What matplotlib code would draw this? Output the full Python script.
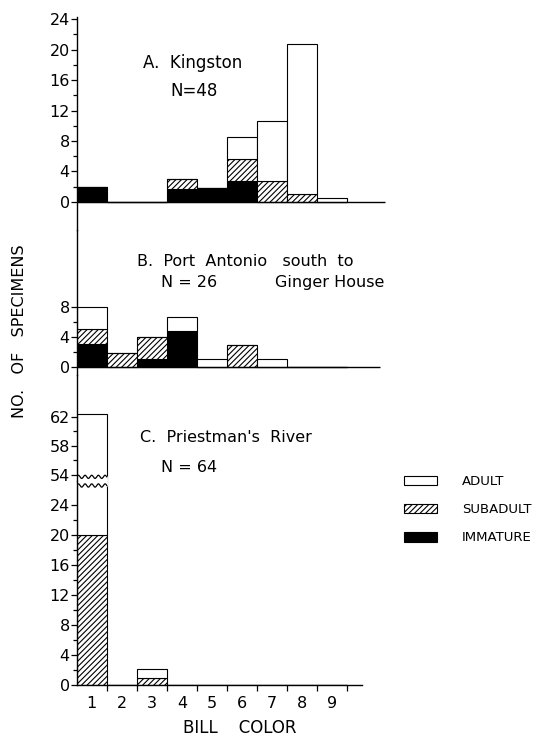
import numpy as np
import matplotlib
matplotlib.use('Agg')
from matplotlib import pyplot as plt
from matplotlib.patches import Patch

# bill colour classes 1..9
bill_color = [1, 2, 3, 4, 5, 6, 7, 8, 9]

# A. Kingston
a_immature = [2.0, 0, 0, 1.7, 1.75, 2.7, 0, 0, 0]
a_subadult = [0, 0, 0, 1.25, 0, 2.9, 2.7, 1.0, 0]
a_adult = [0, 0, 0, 0, 0, 2.95, 7.9, 19.8, 0.55]

# B. Port Antonio south to Ginger House
b_immature = [3.0, 0, 1.0, 4.8, 0, 0, 0, 0, 0]
b_subadult = [2.1, 1.9, 2.95, 0, 0, 2.9, 0, 0, 0]
b_adult = [2.9, 0, 0, 1.95, 1.0, 0, 1.0, 0, 0]

# C. Priestman's River
c_immature = [0, 0, 0, 0, 0, 0, 0, 0, 0]
c_subadult = [20, 0, 1.0, 0, 0, 0, 0, 0, 0]
c_adult = [42.4, 0, 1.1, 0, 0, 0, 0, 0, 0]

W, H = 545, 736
plt.rcParams['hatch.linewidth'] = 0.8
plt.rcParams['font.family'] = 'DejaVu Sans'

fig = plt.figure(figsize=(W / 100, H / 100), dpi=100)

LEFT = 76.7
XW = 309.4


def make_axes(top, bottom, ylim):
    ax = fig.add_axes([LEFT / W, 1 - bottom / H, XW / W, (bottom - top) / H])
    ax.set_xlim(0.5, 10.8)
    ax.set_ylim(*ylim)
    for s in ['top', 'right', 'bottom']:
        ax.spines[s].set_visible(False)
    ax.spines['left'].set_linewidth(1.0)
    ax.set_xticks([])
    ax.tick_params(axis='y', which='major', length=4, width=0.9, pad=1, labelsize=11.5)
    ax.tick_params(axis='y', which='minor', length=3, width=0.9)
    ax.patch.set_alpha(0)
    return ax


def stack(ax, imm, sub, adult):
    imm = np.array(imm)
    sub = np.array(sub)
    adult = np.array(adult)
    ax.bar(bill_color, imm, width=1, color='black', edgecolor='black', linewidth=0.8)
    ax.bar(bill_color, sub, width=1, bottom=imm, color='white', edgecolor='black',
           hatch='//////', linewidth=0.8)
    ax.bar(bill_color, adult, width=1, bottom=imm + sub, color='white', edgecolor='black',
           linewidth=0.8)


# Panel A
ax_a = make_axes(16.7, 230, (-3.72, 24.34))
stack(ax_a, a_immature, a_subadult, a_adult)
ax_a.hlines(0, 0.5, 10.75, color='black', linewidth=1.0)
ax_a.set_yticks([0, 4, 8, 12, 16, 20, 24])
ax_a.set_yticks([2, 6, 10, 14, 18, 22], minor=True)
ax_a.text(4.35, 18.25, 'A.  Kingston', fontsize=12, ha='center', va='center')
ax_a.text(4.4, 14.5, 'N=48', fontsize=12, ha='center', va='center')

# Panel B
ax_b = make_axes(230, 375, (-1.12, 18.4))
stack(ax_b, b_immature, b_subadult, b_adult)
ax_b.hlines(0, 0.5, 10.6, color='black', linewidth=1.0)
ax_b.set_yticks([0, 4, 8])
ax_b.set_yticks([2, 6], minor=True)
ax_b.text(2.5, 14.1, 'B.  Port  Antonio   south  to', fontsize=11.5, ha='left', va='center')
ax_b.text(3.3, 11.3, 'N = 26', fontsize=11.5, ha='left', va='center')
ax_b.text(7.1, 11.3, 'Ginger House', fontsize=11.5, ha='left', va='center')

# Panel C, upper part of broken axis
ax_c2 = make_axes(375, 481, (53.18, 67.7))
stack(ax_c2, c_immature, c_subadult, c_adult)
ax_c2.set_yticks([54, 58, 62])
ax_c2.set_yticks([56, 60], minor=True)
ax_c2.text(2.6, 59.1, "C.  Priestman's  River", fontsize=11.5, ha='left', va='center')
ax_c2.text(3.3, 55.0, 'N = 64', fontsize=11.5, ha='left', va='center')

# Panel C, lower part
ax_c1 = make_axes(481, 685, (0, 27.2))
stack(ax_c1, c_immature, c_subadult, c_adult)
ax_c1.set_yticks([0, 4, 8, 12, 16, 20, 24])
ax_c1.set_yticks([2, 6, 10, 14, 18, 22], minor=True)
ax_c1.spines['bottom'].set_visible(True)
ax_c1.spines['bottom'].set_linewidth(1.0)
ax_c1.spines['bottom'].set_bounds(0.5, 10.0)
ax_c1.set_xticks(np.array(bill_color) + 0.5)
ax_c1.set_xticklabels([])
ax_c1.set_xticks(bill_color, minor=True)
ax_c1.set_xticklabels([str(c) for c in bill_color], minor=True)
ax_c1.tick_params(axis='x', which='major', length=4, width=0.9, direction='out')
ax_c1.tick_params(axis='x', which='minor', length=0, pad=8, labelsize=11.5)

# wavy break on the tall bar
xw = np.linspace(0.5, 1.5, 200)
wave = 0.22 * np.sin(2 * np.pi * 4.5 * (xw - 0.5))
ax_c1.fill_between(xw, 26.6 + wave, 27.2, color='white', zorder=2)
ax_c1.plot(xw, 26.6 + wave, color='black', linewidth=0.9, zorder=2.2)
ax_c2.fill_between(xw, 53.18, 53.75 + wave, color='white', zorder=2)
ax_c2.plot(xw, 53.75 + wave, color='black', linewidth=0.9, zorder=2.2)

fig.text(20 / W, 1 - 331 / H, 'NO.   OF   SPECIMENS', rotation=90, ha='center', va='center',
         fontsize=11.5)
fig.text(240 / W, 1 - 728 / H, 'BILL    COLOR', ha='center', va='center', fontsize=12)

handles = [Patch(facecolor='white', edgecolor='black', linewidth=0.8),
           Patch(facecolor='white', edgecolor='black', hatch='//////', linewidth=0.8),
           Patch(facecolor='black', edgecolor='black', linewidth=0.8)]
fig.legend(handles, ['ADULT', 'SUBADULT', 'IMMATURE'], loc='upper left',
           bbox_to_anchor=(404 / W, 1 - 475 / H), frameon=False, fontsize=9.5,
           handlelength=2.5, handleheight=0.75, handletextpad=1.9, labelspacing=1.15,
           borderpad=0, borderaxespad=0)

plt.savefig('out.png', dpi=100)
